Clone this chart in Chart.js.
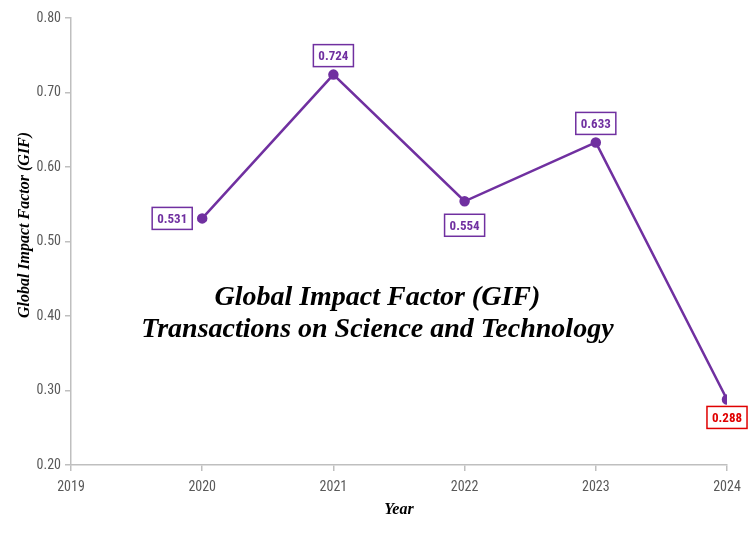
<!DOCTYPE html>
<html>
<head>
<meta charset="utf-8">
<script src="https://cdn.jsdelivr.net/npm/chart.js@4.4.1/dist/chart.umd.min.js"></script>
<style>
  html, body { margin: 0; padding: 0; background: #fff; }
  #wrap { width: 755px; height: 543px; }
</style>
</head>
<body>
<div id="wrap"><canvas id="gifChart" width="755" height="543"></canvas></div>
<script>
// data
const years = [2020, 2021, 2022, 2023, 2024];
const gifValues = [0.531, 0.724, 0.554, 0.633, 0.288];
const labelSpots = ['left', 'above', 'below', 'above', 'below'];
const labelColors = ['#7030A0', '#7030A0', '#7030A0', '#7030A0', '#E00000'];
const xTicks = [2019, 2020, 2021, 2022, 2023, 2024];
const yTicks = [0.2, 0.3, 0.4, 0.5, 0.6, 0.7, 0.8];
const titleLines = ['Global Impact Factor (GIF)', 'Transactions on Science and Technology'];
const yTitle = 'Global Impact Factor (GIF)';
const xTitle = 'Year';

const PURPLE = '#7030A0';
const AXIS_GREY = '#BFBFBF';
const TICK_FONT = '"Liberation Sans Narrow", "Arial Narrow", "Roboto Condensed", sans-serif';
const SERIF = '"Palatino Linotype", Palatino, "Liberation Serif", serif';

// boxed value labels next to each point
const boxLabels = {
    id: 'boxLabels',
    afterDatasetsDraw(chart) {
        const ctx = chart.ctx;
        const meta = chart.getDatasetMeta(0);
        ctx.save();
        ctx.font = 'bold 13px ' + TICK_FONT;
        ctx.textAlign = 'center';
        ctx.textBaseline = 'middle';
        meta.data.forEach((pt, i) => {
            const txt = gifValues[i].toFixed(3);
            const w = ctx.measureText(txt).width + 10;
            const h = 22;
            let cx = pt.x, cy = pt.y;
            if (labelSpots[i] === 'left') cx -= 30;
            if (labelSpots[i] === 'above') cy -= 19;
            if (labelSpots[i] === 'below') cy += (i === 2 ? 24 : 18);
            ctx.fillStyle = '#fff';
            ctx.fillRect(cx - w / 2, cy - h / 2, w, h);
            ctx.strokeStyle = labelColors[i];
            ctx.lineWidth = 1.5;
            ctx.strokeRect(cx - w / 2, cy - h / 2, w, h);
            ctx.fillStyle = labelColors[i];
            ctx.fillText(txt, cx, cy + 1);
        });
        ctx.restore();
    }
};

// big italic title inside the plot + both axis titles
const titles = {
    id: 'titles',
    afterDraw(chart) {
        const ctx = chart.ctx;
        const a = chart.chartArea;
        ctx.save();
        ctx.fillStyle = '#000';
        ctx.textAlign = 'center';
        ctx.textBaseline = 'middle';
        ctx.font = 'italic bold 28px ' + SERIF;
        const cx = a.left + (a.right - a.left) * 0.467;
        ctx.fillText(titleLines[0], cx, a.top + 280);
        ctx.fillText(titleLines[1], cx, a.top + 312);

        ctx.font = 'italic bold 16px ' + SERIF;
        ctx.fillText(xTitle, (a.left + a.right) / 2, a.bottom + 45);

        ctx.font = 'italic bold 16px ' + SERIF;
        ctx.translate(25, a.top + 207);
        ctx.rotate(-Math.PI / 2);
        ctx.fillText(yTitle, 0, 0);
        ctx.restore();
    }
};

new Chart(document.getElementById('gifChart').getContext('2d'), {
    type: 'line',
    data: {
        datasets: [{
            data: years.map((y, i) => ({ x: y, y: gifValues[i] })),
            borderColor: PURPLE,
            backgroundColor: PURPLE,
            borderWidth: 2.5,
            pointRadius: 4,
            pointHoverRadius: 4,
            tension: 0
        }]
    },
    options: {
        responsive: false,
        animation: false,
        layout: { padding: { top: 18, right: 28, bottom: 0, left: 0 } },
        plugins: {
            legend: { display: false },
            tooltip: { enabled: false }
        },
        scales: {
            x: {
                type: 'linear',
                min: 2019,
                max: 2024,
                afterFit: s => { s.height = 78; },
                afterBuildTicks: s => { s.ticks = xTicks.map(v => ({ value: v })); },
                ticks: {
                    color: '#595959',
                    font: { family: TICK_FONT, size: 14 },
                    padding: 8,
                    callback: v => String(v)
                },
                grid: { drawOnChartArea: false, color: AXIS_GREY, tickLength: 6, lineWidth: 1.5 },
                border: { color: AXIS_GREY, width: 1.5 }
            },
            y: {
                min: 0.2,
                max: 0.8,
                afterFit: s => { s.width = 71; },
                afterBuildTicks: s => { s.ticks = yTicks.map(v => ({ value: v })); },
                ticks: {
                    color: '#595959',
                    font: { family: TICK_FONT, size: 14 },
                    padding: 4,
                    callback: v => v.toFixed(2)
                },
                grid: { drawOnChartArea: false, color: AXIS_GREY, tickLength: 6, lineWidth: 1.5 },
                border: { color: AXIS_GREY, width: 1.5 }
            }
        }
    },
    plugins: [boxLabels, titles]
});
</script>
</body>
</html>
